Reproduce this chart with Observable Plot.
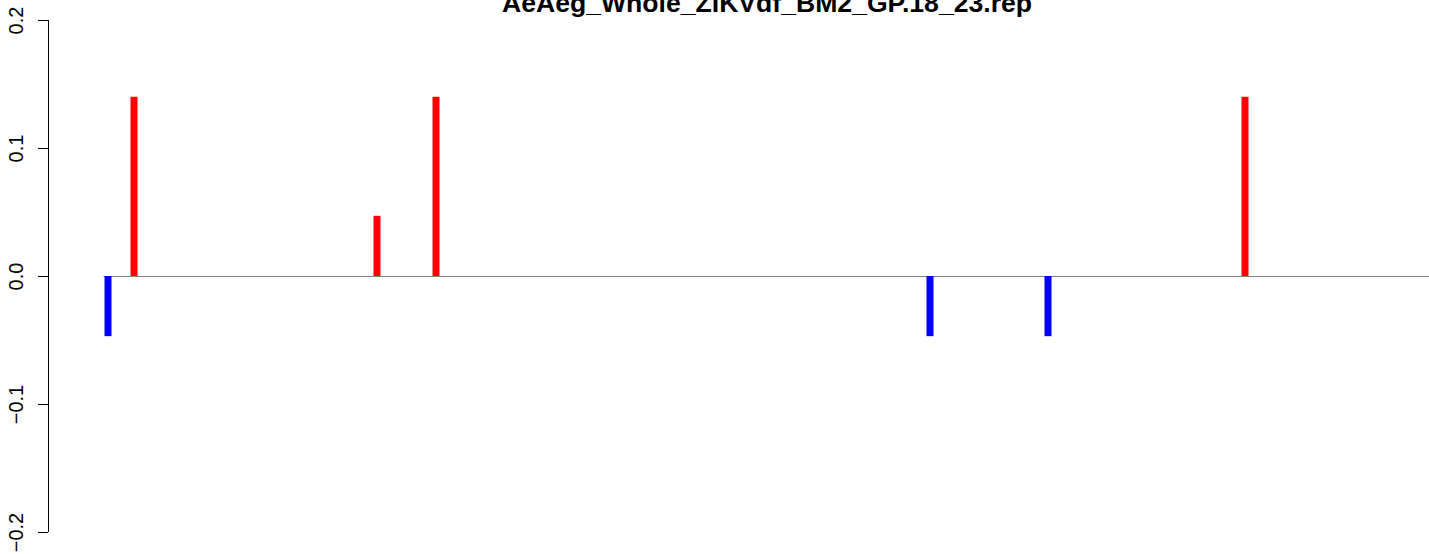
<!DOCTYPE html>
<html>
<head>
<meta charset="utf-8">
<script src="https://cdn.jsdelivr.net/npm/d3@7"></script>
<script src="https://cdn.jsdelivr.net/npm/@observablehq/plot@0.6"></script>
<style>
  html, body { margin: 0; padding: 0; background: #fff; overflow: hidden; }
  #wrap { position: relative; width: 1429px; height: 554px; }
  #title { position: absolute; top: -10px; left: 0; width: 1534px; text-align: center;
           font-family: "Liberation Sans", Arial, sans-serif; font-weight: bold; font-size: 26.6px;
           line-height: 1; color: #000; white-space: nowrap; }
  svg { display: block; }
</style>
</head>
<body>
<div id="wrap">
  <div id="title"></div>
  <div id="chart"></div>
</div>
<script>
// ---- data ----
const title = "AeAeg_Whole_ZIKVdf_BM2_GP.18_23.rep";
const positions = [59.5, 85.5, 328.5, 387.5, 881.5, 999.5, 1196.5];
const values    = [-0.047, 0.14, 0.047, 0.14, -0.047, -0.047, 0.14];
const yTicks    = [-0.2, -0.1, 0.0, 0.1, 0.2];
const xDomain   = [0, 1381];
const yDomain   = [-0.2, 0.2];
const baselineStart = 55.5;

const data = positions.map((p, i) => ({pos: p, value: values[i]}));

document.getElementById("title").textContent = title;

const chart = Plot.plot({
  width: 1429,
  height: 554,
  marginLeft: 48,
  marginRight: 0,
  marginTop: 20,
  marginBottom: 22,
  style: {fontFamily: "'Liberation Sans', Arial, sans-serif", background: "#fff"},
  x: {domain: xDomain, axis: null},
  y: {domain: yDomain, axis: null},
  marks: [
    Plot.ruleY([0], {x1: baselineStart, x2: xDomain[1], stroke: "#808080", strokeWidth: 1.2}),
    Plot.ruleX(data, {
      x: "pos", y1: 0, y2: "value",
      stroke: d => d.value >= 0 ? "#FF0000" : "#0000FF",
      strokeWidth: 7
    }),
    Plot.ruleX([xDomain[0]], {y1: yDomain[0], y2: yDomain[1], stroke: "#000", strokeWidth: 1}),
    // tick marks
    Plot.axisY({
      ticks: yTicks,
      tickSize: 10,
      tickFormat: () => "",
      stroke: "#000",
      strokeOpacity: 1,
      strokeWidth: 1,
      label: null
    }),
    // rotated tick labels
    Plot.axisY({
      ticks: yTicks,
      tickSize: 0,
      tickPadding: 25.5,
      tickFormat: d => d3.format(".1f")(d).replace("-", "\u2212"),
      rotate: -90,
      textAnchor: "middle",
      lineAnchor: "bottom",
      fontSize: 20,
      fill: "#000",
      label: null
    })
  ]
});
document.getElementById("chart").appendChild(chart);
</script>
</body>
</html>
